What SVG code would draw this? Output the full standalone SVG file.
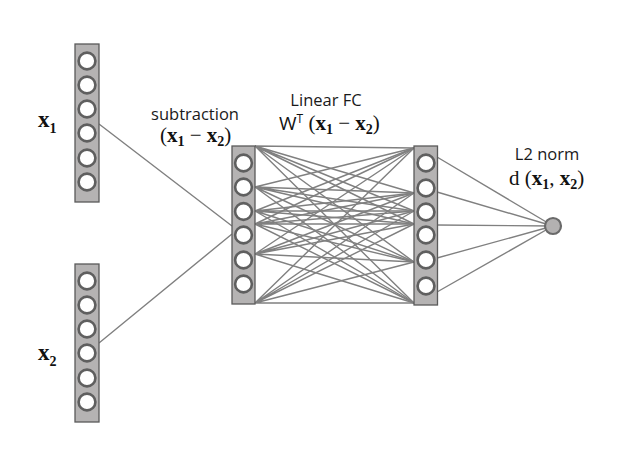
<svg xmlns="http://www.w3.org/2000/svg" width="634" height="451" viewBox="0 0 634 451">
<style>
.bar{fill:#b5b3b3;stroke:#5a5a5a;stroke-width:1.3}
.nd{fill:#ffffff;stroke:#5f5f5f;stroke-width:2.6}
.out{fill:#b3b1b1;stroke:#6a6a6a;stroke-width:2.2}
.ln{stroke:#808080;stroke-width:1.4;fill:none}
.lbl{font-family:"Open Sans","Liberation Sans",sans-serif;font-size:16.5px;fill:#1a1a1a}
.mth{font-family:"Liberation Serif","DejaVu Serif",serif;font-size:21px;fill:#111}
.b{font-weight:bold}
.sub{font-size:14px}
.big{font-size:23px}
</style>
<rect width="634" height="451" fill="#ffffff"/>
<g id="connectors">
<path class="ln" d="M99,124 L232,226 M99,343 L232,234"/>
<g id="fc">
<path class="ln" d="M255,146 L414,148 M255,146 L414,193 M255,146 L414,211 M255,146 L414,224 M255,146 L414,262 M255,146 L414,303"/>
<path class="ln" d="M255,187 L414,148 M255,187 L414,193 M255,187 L414,211 M255,187 L414,224 M255,187 L414,262 M255,187 L414,303"/>
<path class="ln" d="M255,211 L414,148 M255,211 L414,193 M255,211 L414,211 M255,211 L414,224 M255,211 L414,262 M255,211 L414,303"/>
<path class="ln" d="M255,224 L414,148 M255,224 L414,193 M255,224 L414,211 M255,224 L414,224 M255,224 L414,262 M255,224 L414,303"/>
<path class="ln" d="M255,254 L414,148 M255,254 L414,193 M255,254 L414,211 M255,254 L414,224 M255,254 L414,262 M255,254 L414,303"/>
<path class="ln" d="M255,303 L414,148 M255,303 L414,193 M255,303 L414,211 M255,303 L414,224 M255,303 L414,262 M255,303 L414,303"/>
</g>
<path class="ln" d="M437,157 L553,226 M437,192 L553,226 M437,225 L553,226 M437,258 L553,226 M437,292 L553,226"/>
</g>
<g id="x1">
<rect class="bar" x="75" y="44" width="24" height="158"/>
<circle class="nd" cx="87" cy="61" r="8.4"/>
<circle class="nd" cx="87" cy="85" r="8.4"/>
<circle class="nd" cx="87" cy="109" r="8.4"/>
<circle class="nd" cx="87" cy="133" r="8.4"/>
<circle class="nd" cx="87" cy="158" r="8.4"/>
<circle class="nd" cx="87" cy="182" r="8.4"/>
<text class="mth big" x="38" y="127"><tspan class="b">x</tspan><tspan class="b sub" dy="6">1</tspan></text>
</g>
<g id="x2">
<rect class="bar" x="75" y="264" width="24" height="158"/>
<circle class="nd" cx="87" cy="281" r="8.4"/>
<circle class="nd" cx="87" cy="305" r="8.4"/>
<circle class="nd" cx="87" cy="329" r="8.4"/>
<circle class="nd" cx="87" cy="353" r="8.4"/>
<circle class="nd" cx="87" cy="378" r="8.4"/>
<circle class="nd" cx="87" cy="402" r="8.4"/>
<text class="mth big" x="38" y="360"><tspan class="b">x</tspan><tspan class="b sub" dy="6">2</tspan></text>
</g>
<g id="subtraction">
<rect class="bar" x="232" y="146" width="23" height="158"/>
<circle class="nd" cx="243.5" cy="163" r="8.4"/>
<circle class="nd" cx="243.5" cy="187" r="8.4"/>
<circle class="nd" cx="243.5" cy="211.5" r="8.4"/>
<circle class="nd" cx="243.5" cy="235" r="8.4"/>
<circle class="nd" cx="243.5" cy="260" r="8.4"/>
<circle class="nd" cx="243.5" cy="284" r="8.4"/>
<text class="lbl" x="195" y="120" text-anchor="middle">subtraction</text>
<text class="mth" x="160" y="142">(<tspan class="b">x</tspan><tspan class="b sub" dy="4">1</tspan><tspan dy="-4"> − </tspan><tspan class="b">x</tspan><tspan class="b sub" dy="4">2</tspan><tspan dy="-4">)</tspan></text>
</g>
<g id="linearfc">
<rect class="bar" x="414" y="146" width="23.5" height="159"/>
<circle class="nd" cx="426" cy="163" r="8.4"/>
<circle class="nd" cx="426" cy="188" r="8.4"/>
<circle class="nd" cx="426" cy="212" r="8.4"/>
<circle class="nd" cx="426" cy="235" r="8.4"/>
<circle class="nd" cx="426" cy="260" r="8.4"/>
<circle class="nd" cx="426" cy="286" r="8.4"/>
<text class="lbl" x="326" y="106" text-anchor="middle">Linear FC</text>
<text class="mth" x="279" y="130"><tspan font-family="Open Sans, Liberation Sans, sans-serif" font-size="19">W</tspan><tspan font-family="Open Sans, Liberation Sans, sans-serif" font-size="12" dy="-7">T</tspan><tspan dy="7"> (</tspan><tspan class="b">x</tspan><tspan class="b sub" dy="4">1</tspan><tspan dy="-4"> − </tspan><tspan class="b">x</tspan><tspan class="b sub" dy="4">2</tspan><tspan dy="-4">)</tspan></text>
</g>
<g id="l2norm">
<circle class="out" cx="553" cy="226" r="8"/>
<text class="lbl" x="547" y="160" text-anchor="middle">L2 norm</text>
<text class="mth" x="509" y="185">d (<tspan class="b">x</tspan><tspan class="b sub" dy="4">1</tspan><tspan dy="-4">, </tspan><tspan class="b">x</tspan><tspan class="b sub" dy="4">2</tspan><tspan dy="-4">)</tspan></text>
</g>
</svg>
